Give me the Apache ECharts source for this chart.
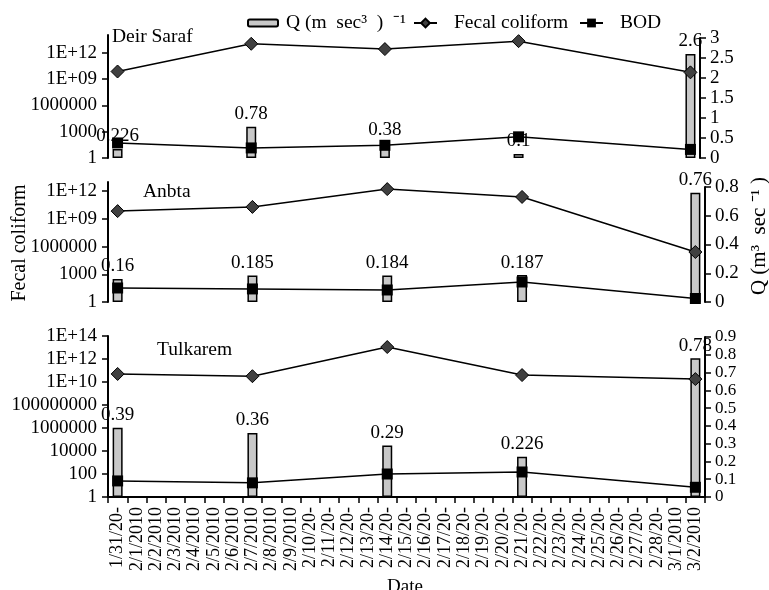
<!DOCTYPE html>
<html>
<head>
<meta charset="utf-8">
<script src="https://cdn.jsdelivr.net/npm/echarts@6.0.0/dist/echarts.min.js"></script>
<style>html,body{margin:0;padding:0;background:#fff}#c{width:769px;height:590px}</style>
</head>
<body>
<div id="c"></div>
<script>
const categories = ['1/31/20-','2/1/2010','2/2/2010','2/3/2010','2/4/2010','2/5/2010','2/6/2010','2/7/2010','2/8/2010','2/9/2010',
  '2/10/20-','2/11/20-','2/12/20-','2/13/20-','2/14/20-','2/15/20-','2/16/20-','2/17/20-','2/18/20-','2/19/20-','2/20/20-',
  '2/21/20-','2/22/20-','2/23/20-','2/24/20-','2/25/20-','2/26/20-','2/27/20-','2/28/20-','3/1/2010','3/2/2010'];
const sampleDates = ['1/31/20-','2/7/2010','2/14/20-','2/21/20-','3/2/2010'];

const deirQ = [0.226, 0.78, 0.38, 0.1, 2.6];
const deirFC = [7e9, 1e13, 2.5e12, 2e13, 5.6e9];
const deirBOD = [52, 14, 28, 257, 9.5];

const anbtaQ = [0.16, 0.185, 0.184, 0.187, 0.76];
const anbtaFC = [7e9, 2e10, 1.7e12, 2.4e11, 2.6e5];
const anbtaBOD = [33, 26, 20, 147, 2.4];

const tulQ = [0.39, 0.36, 0.29, 0.226, 0.78];
const tulFC = [5e10, 3.2e10, 1.1e13, 4e10, 1.8e10];
const tulBOD = [25, 17, 100, 150, 7];

const ticks1 = [1, 1000, 1e6, 1e9, 1e12];
const ticks2 = [1, 1000, 1e6, 1e9, 1e12];
const ticks3 = [1, 100, 1e4, 1e6, 1e8, 1e10, 1e12, 1e14];

const FONT = 'Liberation Serif';
const pairs = (vals) => sampleDates.map((d, i) => [d, vals[i]]);
const fmtLog = (v) => {
  if (v < 1e9) return String(Math.round(v));
  const e = Math.round(Math.log10(v));
  return '1E+' + (e < 10 ? '0' + e : e);
};
const fmtQ = (v) => String(Math.round(v * 10) / 10);

const panels = [
  {name: 'Deir Saraf', Q: deirQ, FC: deirFC, BOD: deirBOD, lt: 35, lh: 123, rt: 38, rh: 120, right: 69, lmax: 1e14, ticks: ticks1, rmax: 3, rint: 0.5, rfs: 19, tx: 112, ty: 27},
  {name: 'Anbta', Q: anbtaQ, FC: anbtaFC, BOD: anbtaBOD, lt: 182, lh: 120, rt: 187, rh: 115, right: 64, lmax: 1e13, ticks: ticks2, rmax: 0.8, rint: 0.2, rfs: 19, tx: 143, ty: 182},
  {name: 'Tulkarem', Q: tulQ, FC: tulFC, BOD: tulBOD, lt: 336, lh: 161, rt: 337, rh: 160, right: 64, lmax: 1e14, ticks: ticks3, rmax: 0.9, rint: 0.1, rfs: 17, tx: 157, ty: 340}
];

const grid = [], xAxis = [], yAxis = [], series = [], title = [];
const axisLineStyle = {color: '#000', width: 2};
const yLabelStyle = {fontSize: 19, fontFamily: FONT, color: '#000'};
const xLabelStyle = {fontSize: 18, fontFamily: FONT, color: '#000'};

panels.forEach((p, k) => {
  const L = k * 2, R = k * 2 + 1;
  grid.push({left: 108, right: p.right, top: p.lt, height: p.lh});
  grid.push({left: 108, right: p.right, top: p.rt, height: p.rh});
  const showX = (k === 2);
  xAxis.push({
    type: 'category', gridIndex: L, data: categories, boundaryGap: true, show: showX,
    axisLine: {show: true, lineStyle: axisLineStyle},
    axisTick: {show: true, interval: 0, length: 6, lineStyle: {color: '#000', width: 1.5}},
    axisLabel: Object.assign({interval: 0, rotate: 90, margin: 10}, xLabelStyle)
  });
  xAxis.push({type: 'category', gridIndex: R, data: categories, boundaryGap: true, show: false});
  yAxis.push({
    type: 'log', logBase: 10, gridIndex: L, min: 1, max: p.lmax, position: 'left',
    splitLine: {show: false},
    axisLine: {show: true, lineStyle: axisLineStyle},
    axisTick: {show: true, length: 6, lineStyle: {color: '#000', width: 1.5}, customValues: p.ticks},
    minorTick: {show: false},
    axisLabel: Object.assign({margin: 11, formatter: fmtLog, customValues: p.ticks, showMinLabel: true, showMaxLabel: true}, yLabelStyle)
  });
  yAxis.push({
    type: 'value', gridIndex: R, min: 0, max: p.rmax, interval: p.rint, position: 'right',
    splitLine: {show: false},
    axisLine: {show: true, lineStyle: axisLineStyle},
    axisTick: {show: true, length: 6, lineStyle: {color: '#000', width: 1.5}},
    axisLabel: Object.assign({margin: 10, formatter: fmtQ, showMinLabel: true, showMaxLabel: true, hideOverlap: false}, yLabelStyle, {fontSize: p.rfs})
  });
  series.push({
    type: 'bar', name: 'Q', xAxisIndex: R, yAxisIndex: R, data: pairs(p.Q), barWidth: 10, z: 2,
    itemStyle: {color: '#c8c8c8', borderColor: '#000', borderWidth: 1.5},
    label: Object.assign({show: true, position: 'top', distance: 3, formatter: (q) => String(q.value[1])}, yLabelStyle)
  });
  series.push({
    type: 'line', name: 'Fecal coliform', xAxisIndex: L, yAxisIndex: L, data: pairs(p.FC), z: 3,
    symbol: 'diamond', symbolSize: 13, showAllSymbol: true,
    lineStyle: {color: '#000', width: 1.5},
    itemStyle: {color: '#404040', borderColor: '#000', borderWidth: 1}
  });
  series.push({
    type: 'line', name: 'BOD', xAxisIndex: L, yAxisIndex: L, data: pairs(p.BOD), z: 4,
    symbol: 'rect', symbolSize: 11, showAllSymbol: true,
    lineStyle: {color: '#000', width: 1.5},
    itemStyle: {color: '#000'}
  });
  title.push({text: p.name, left: p.tx, top: p.ty, padding: 0,
    textStyle: {fontSize: 19.5, fontFamily: FONT, fontWeight: 'normal', color: '#000'}});
});

const legendText = {fontSize: 19.5, fontFamily: FONT, color: '#000'};
const option = {
  animation: false,
  backgroundColor: '#fff',
  title: title,
  legend: [
    {data: ['Q'], left: 247, top: 13, padding: 0, itemWidth: 30, itemHeight: 7,
      textStyle: Object.assign({padding: [0, 0, 0, 3]}, legendText),
      formatter: () => 'Q (m  sec\u00B3  )  \u207B\u00B9'},
    {data: ['Fecal coliform'], left: 413, top: 13, padding: 0, itemWidth: 23, itemHeight: 11,
      textStyle: Object.assign({padding: [0, 0, 0, 12]}, legendText)},
    {data: ['BOD'], left: 579, top: 13, padding: 0, itemWidth: 23, itemHeight: 11,
      textStyle: Object.assign({padding: [0, 0, 0, 12]}, legendText)}
  ],
  grid: grid,
  xAxis: xAxis,
  yAxis: yAxis,
  series: series,
  graphic: [
    {type: 'text', x: 20, y: 243, rotation: Math.PI / 2,
      style: {text: 'Fecal coliform', font: '20px "Liberation Serif"', fill: '#000', textAlign: 'center', textVerticalAlign: 'middle'}},
    {type: 'text', x: 759, y: 236, rotation: Math.PI / 2,
      style: {text: 'Q (m\u00B3  sec \u207B\u00B9 )', font: '21px "Liberation Serif"', fill: '#000', textAlign: 'center', textVerticalAlign: 'middle'}},
    {type: 'text', x: 405, y: 587,
      style: {text: 'Date', font: '19px "Liberation Serif"', fill: '#000', textAlign: 'center', textVerticalAlign: 'middle'}}
  ]
};
const chart = echarts.init(document.getElementById('c'), null, {renderer: 'canvas'});
chart.setOption(option);
</script>
</body>
</html>
